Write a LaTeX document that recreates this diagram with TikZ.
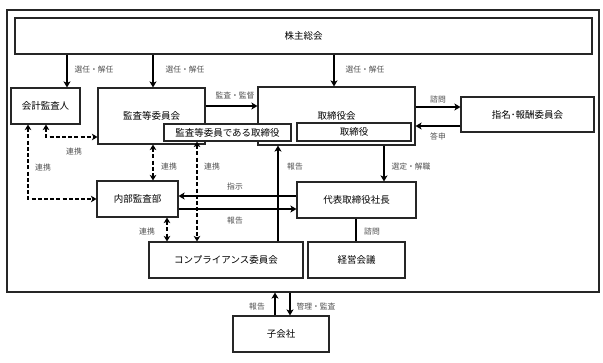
\documentclass[tikz,border=0pt]{standalone}
\usepackage{fontspec}
\setmainfont{Noto Sans CJK JP}
\usetikzlibrary{arrows.meta,calc}
\definecolor{lblgray}{HTML}{505050}
\tikzset{
  box/.style={draw=black!85, line width=1.1pt, fill=white, inner sep=0pt, font=\fontsize{9.5}{11}\selectfont, text=black},
  lbl/.style={font=\fontsize{7.8}{9}\selectfont, text=lblgray, inner sep=0pt},
  arr/.style={line width=1.7pt, -{Stealth[length=6pt,width=7pt,inset=1.5pt]}},
  darr/.style={line width=1.6pt, dash pattern=on 4pt off 2.2pt, {Stealth[length=5.5pt,width=6.5pt,inset=1.5pt]}-{Stealth[length=5.5pt,width=6.5pt,inset=1.5pt]}},
  plain/.style={line width=1.7pt}
}
\begin{document}
\begin{tikzpicture}[x=1pt,y=-1pt]
\useasboundingbox[fill=white] (0,0) rectangle (603,362);
% frame
\node[box, minimum width=592pt, minimum height=282pt] (frame) at (303,151) {};
% nodes
\node[box, minimum width=577pt, minimum height=36pt] (kabu) at (303.5,36) {株主総会};
\node[box, minimum width=69pt, minimum height=36pt] (kaikei) at (45.5,106) {会計監査人};
\node[box, minimum width=107pt, minimum height=56pt] (kansa) at (151.5,116) {};
\node at (151.5,116) [font=\fontsize{9.5}{11}\selectfont] {監査等委員会};
\node[box, minimum width=157pt, minimum height=58pt] (torikai) at (336.5,116) {};
\node at (336.5,115.5) [font=\fontsize{9.5}{11}\selectfont] {取締役会};
\node[box, minimum width=127pt, minimum height=17pt] (kansatori) at (227.5,132.5) {監査等委員である取締役};
\node[box, minimum width=114pt, minimum height=18pt] (tori) at (354,132) {取締役};
\node[box, minimum width=133pt, minimum height=35pt] (shimei) at (527.5,114.5) {指名･報酬委員会};
\node[box, minimum width=119pt, minimum height=36pt] (daihyo) at (356.5,200) {代表取締役社長};
\node[box, minimum width=97pt, minimum height=36pt] (keiei) at (356.5,260) {経営会議};
\node[box, minimum width=154pt, minimum height=36pt] (comp) at (226,260) {コンプライアンス委員会};
\node[box, minimum width=81pt, minimum height=36pt] (naibu) at (137.5,199) {内部監査部};
\node[box, minimum width=96pt, minimum height=36pt] (ko) at (281,334) {子会社};
% helper coordinates
\coordinate (xa) at (67,0);
\coordinate (xb) at (153,0);
\coordinate (xc) at (334,0);
\coordinate (ya) at (0,106);
\coordinate (yb) at (0,107);
\coordinate (yc) at (0,126);
\coordinate (xd) at (384,0);
\coordinate (ye) at (0,196);
\coordinate (yf) at (0,209);
\coordinate (xg) at (278,0);
\coordinate (xh) at (356,0);
\coordinate (xi) at (275,0);
\coordinate (xj) at (290,0);
\coordinate (c1) at (46,137);
\coordinate (c2) at (28,199);
\coordinate (xk) at (197,0);
\coordinate (xl) at (167,0);
% solid arrows
\draw[arr] (kabu.south -| xa) -- (kaikei.north -| xa);
\draw[arr] (kabu.south -| xb) -- (kansa.north -| xb);
\draw[arr] (kabu.south -| xc) -- (torikai.north -| xc);
\draw[arr] (kansa.east |- ya) -- (torikai.west |- ya);
\draw[arr] (torikai.east |- yb) -- (shimei.west |- yb);
\draw[arr] (shimei.west |- yc) -- (torikai.east |- yc);
\draw[arr] (torikai.south -| xd) -- (daihyo.north -| xd);
\draw[arr] (daihyo.west |- ye) -- (naibu.east |- ye);
\draw[arr] (naibu.east |- yf) -- (daihyo.west |- yf);
\draw[arr] (comp.north -| xg) -- (torikai.south -| xg);
\draw[plain] (daihyo.south -| xh) -- (keiei.north -| xh);
\draw[arr] (ko.north -| xi) -- (frame.south -| xi);
\draw[arr] (frame.south -| xj) -- (ko.north -| xj);
% dashed arrows
\draw[darr] (kaikei.south -| c1) |- (kansa.west |- c1);
\draw[darr] (kaikei.south -| c2) |- (naibu.west |- c2);
\draw[darr] (kansa.south -| xb) -- (naibu.north -| xb);
\draw[darr] (kansatori.south -| xk) -- (comp.north -| xk);
\draw[darr] (naibu.south -| xl) -- (comp.north -| xl);
% labels
\node[lbl] (l1) at (94,70) {選任・解任};
\node[lbl] (l2) at (185,70) {選任・解任};
\node[lbl] (l3) at (365,70) {選任・解任};
\node[lbl] (l4) at (235,96) {監査・監督};
\node[lbl] (l5) at (438,100) {諮問};
\node[lbl] (l6) at (438,136) {答申};
\node[lbl] (l7) at (411,167) {選定・解職};
\node[lbl] (l8) at (295,167) {報告};
\node[lbl] (l9) at (74,152) {連携};
\node[lbl] (l10) at (43,168) {連携};
\node[lbl] (l11) at (169,167) {連携};
\node[lbl] (l12) at (212,167) {連携};
\node[lbl] (l13) at (147,232) {連携};
\node[lbl] (l14) at (235,187) {指示};
\node[lbl] (l15) at (235,221) {報告};
\node[lbl] (l16) at (372,232) {諮問};
\node[lbl] (l17) at (257,307) {報告};
\node[lbl] (l18) at (316,307) {管理・監査};
\end{tikzpicture}
\end{document}
